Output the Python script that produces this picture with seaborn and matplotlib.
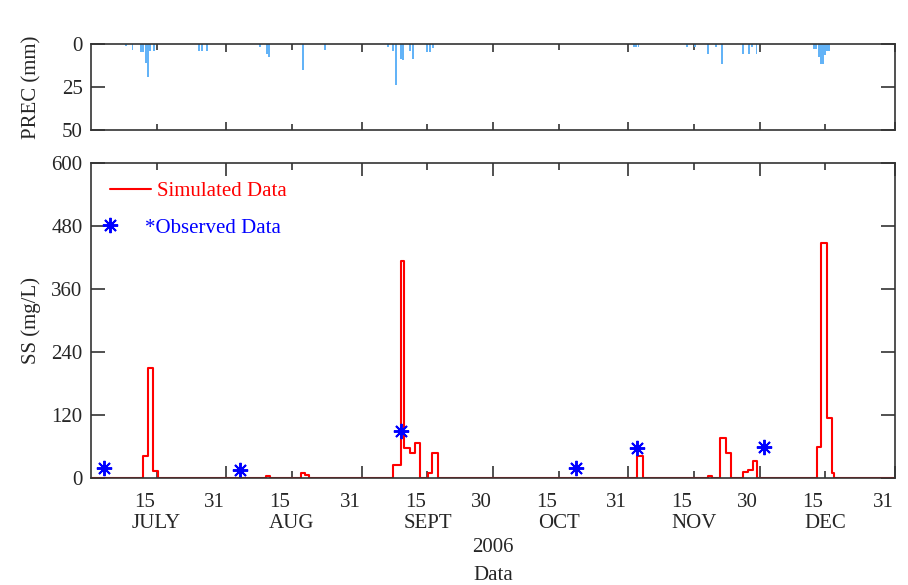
import matplotlib
matplotlib.use("Agg")
import matplotlib.pyplot as plt
import matplotlib.transforms as mtransforms
from matplotlib.lines import Line2D
import seaborn as sns

# x axis = day of year 2006 (30 June .. 31 Dec)
prec_day = [189.0, 190.5, 192.5, 193.0, 193.5, 194.0, 194.5, 195.5,
            205.8, 206.3, 207.5, 219.7, 221.3, 221.7, 229.5, 234.5,
            249.0, 250.2, 250.8, 251.9, 252.5, 254.0, 254.7, 257.8, 258.6, 259.2,
            305.2, 305.7, 306.3, 317.3, 319.2, 322.1, 324.0, 325.4,
            330.2, 331.5, 332.3, 333.3,
            346.5, 347.0, 347.5, 348.0, 348.5, 349.0, 349.5, 350.0]
prec_mm = [1.0, 3.4, 4.7, 4.7, 11.0, 19.0, 4.0, 4.0,
           3.8, 3.8, 3.8, 2.0, 5.7, 7.6, 15.0, 3.4,
           2.0, 4.0, 23.7, 8.5, 9.5, 4.0, 8.5, 4.7, 4.7, 2.5,
           2.0, 2.0, 2.0, 2.0, 1.5, 5.7, 2.0, 11.4,
           5.7, 5.7, 2.0, 5.7,
           2.8, 2.8, 7.6, 11.4, 11.4, 6.6, 3.8, 3.8]

# simulated SS, step changes (value holds until next entry)
ss_day = [181, 193.0, 194.0, 195.1, 196.3, 221.0, 222.0, 229.0, 230.0, 230.9,
          250.0, 252.0, 252.7, 254.0, 255.2, 256.3, 258.2, 259.1, 260.3,
          306.0, 307.3, 322.1, 323.2, 325.0, 326.3, 327.4,
          330.1, 331.3, 332.4, 333.4,
          347.1, 348.1, 349.4, 350.5, 351.1, 365]
ss_val = [0, 41, 210, 14, 0, 3, 0, 9, 6, 0,
          25, 413, 57, 47, 66, 0, 9, 47, 0,
          41, 0, 3, 0, 76, 47, 0,
          12, 16, 32, 0,
          60, 447, 114, 9, 0, 0]

obs_day = [184, 215, 252, 292, 306, 335]
obs_val = [19, 16, 89, 19, 57, 60]

mid_days = [196, 227, 258, 288, 319, 349]
end_days = [212, 243, 273, 304, 334, 365]
mid_labels = ["15", "15", "15", "15", "15", "15"]
end_labels = ["31", "31", "30", "31", "30", "31"]
months = ["JULY", "AUG", "SEPT", "OCT", "NOV", "DEC"]

sns.set_theme(style="ticks")
plt.rcParams["font.family"] = ["Liberation Serif", "DejaVu Serif"]
fs = 15
edge = "#333333"

fig = plt.figure(figsize=(9.08, 5.85), dpi=100)
ax_p = fig.add_axes([91 / 908, 1 - 130 / 585, 804 / 908, 86 / 585])
ax_s = fig.add_axes([91 / 908, 1 - 478 / 585, 804 / 908, 315 / 585])

# precipitation, hanging from the top
ax_p.bar(prec_day, prec_mm, width=0.45, color="#63b3f7", linewidth=0)
ax_p.set_ylim(50, 0)
ax_p.set_yticks([0, 25, 50])
ax_p.set_ylabel("PREC (mm)", fontsize=fs)

# suspended sediment
sns.lineplot(x=ss_day, y=ss_val, drawstyle="steps-post", color="red",
             linewidth=1.5, sort=False, ax=ax_s)
ax_s.plot(obs_day, obs_val, linestyle="", marker=(8, 2, 0), markersize=11,
          markeredgewidth=1.4, color="blue")
ax_s.set_ylim(0, 600)
ax_s.set_yticks([0, 120, 240, 360, 480, 600])
ax_s.set_ylabel("SS (mg/L)", fontsize=fs)
ax_s.set_xlabel("Data", fontsize=fs)
ax_s.xaxis.set_label_coords(0.5, -0.28)

handles = [Line2D([], [], color="red", linewidth=1.5),
           Line2D([], [], color="blue", linestyle="", marker=(8, 2, 0),
                  markersize=11, markeredgewidth=1.4)]
leg = ax_s.legend(handles, ["Simulated Data", "*Observed Data"], loc="upper left",
                  frameon=False, labelcolor=["red", "blue"], fontsize=fs,
                  handlelength=2.0, handletextpad=0.25, labelspacing=0.8,
                  borderaxespad=0.5)
leg.legend_handles[1].set_markevery([0])
leg.get_texts()[1].set_x(-12)

for ax, big, small in [(ax_p, 6, 4), (ax_s, 9, 5)]:
    ax.set_xlim(181, 365)
    ax.set_xticks(end_days)
    ax.set_xticks(mid_days, minor=True)
    for s in ax.spines.values():
        s.set_color(edge)
        s.set_linewidth(1.2)
    ax.tick_params(axis="x", which="major", direction="in", length=big,
                   width=1.2, color=edge, top=True, bottom=True)
    ax.tick_params(axis="x", which="minor", direction="in", length=small,
                   width=1.2, color=edge, top=True, bottom=True)
    ax.tick_params(axis="y", direction="in", length=10, width=1.2,
                   color=edge, left=True, right=True, labelsize=fs, pad=6)
    ax.yaxis.set_label_coords(-0.062, 0.5)

ax_p.tick_params(axis="x", which="both", labelbottom=False)

ax_s.set_xticklabels(end_labels)
ax_s.set_xticklabels(mid_labels, minor=True)
ax_s.tick_params(axis="x", which="both", labelsize=fs, pad=11)
shift = mtransforms.ScaledTranslation(-12 / 100, 0, fig.dpi_scale_trans)
for lbl in ax_s.get_xticklabels(which="both"):
    lbl.set_transform(lbl.get_transform() + shift)

for d, m in zip(mid_days, months):
    ax_s.annotate(m, xy=(d, 0), xycoords=("data", "axes fraction"),
                  xytext=(0, -32.5), textcoords="offset points",
                  ha="center", va="center", fontsize=fs)
ax_s.annotate("2006", xy=(0.5, 0), xycoords="axes fraction",
              xytext=(0, -50), textcoords="offset points",
              ha="center", va="center", fontsize=fs)

fig.savefig("out.png", dpi=100)
